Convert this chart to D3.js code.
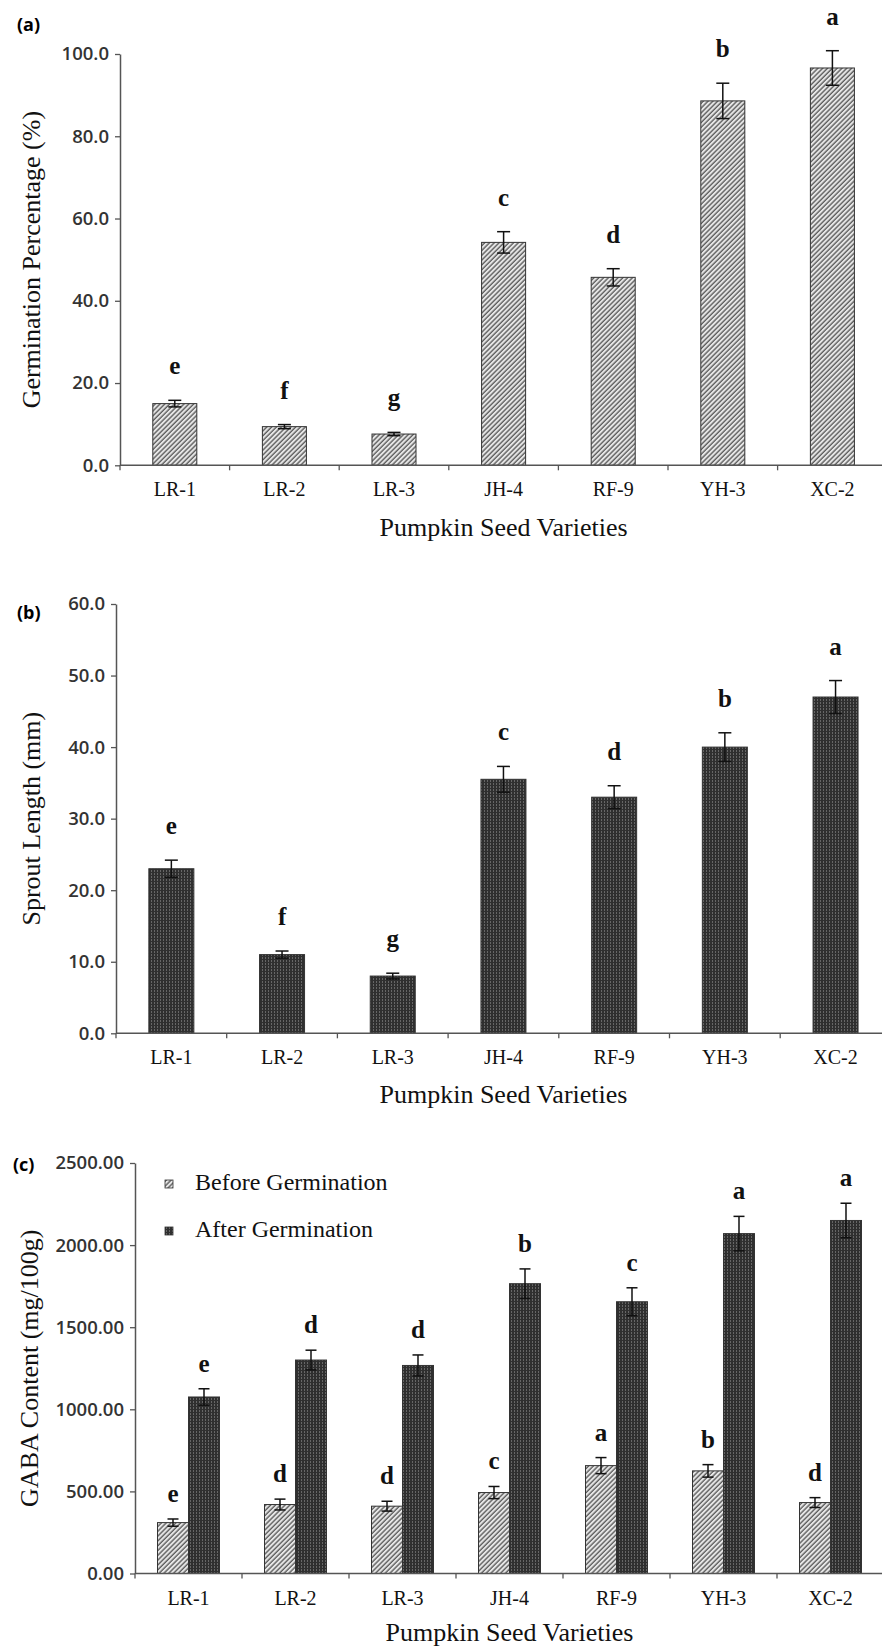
<!DOCTYPE html>
<html>
<head>
<meta charset="utf-8">
<script src="https://cdn.jsdelivr.net/npm/d3@7"></script>
<style>
  body { margin: 0; background: #fff; }
  svg { display: block; }
</style>
</head>
<body>
<script>
;(() => {

    // categories shared by all three panels
    const varieties = ['LR-1', 'LR-2', 'LR-3', 'JH-4', 'RF-9', 'YH-3', 'XC-2'];

    // (a) germination percentage
    const germination = [15.0, 9.4, 7.6, 54.2, 45.7, 88.6, 96.6];
    const germinationErr = [0.8, 0.5, 0.4, 2.6, 2.1, 4.3, 4.2];
    const germinationSig = ['e', 'f', 'g', 'c', 'd', 'b', 'a'];
    const germinationTicks = [0, 20, 40, 60, 80, 100];

    // (b) sprout length
    const sprout = [23.0, 11.0, 8.0, 35.5, 33.0, 40.0, 47.0];
    const sproutErr = [1.2, 0.5, 0.4, 1.8, 1.6, 2.0, 2.3];
    const sproutSig = ['e', 'f', 'g', 'c', 'd', 'b', 'a'];
    const sproutTicks = [0, 10, 20, 30, 40, 50, 60];

    // (c) GABA content before / after germination
    const gabaBefore = [310, 420, 410, 493, 657, 625, 432];
    const gabaBeforeErr = [22, 33, 30, 37, 49, 38, 30];
    const gabaBeforeSig = ['e', 'd', 'd', 'c', 'a', 'b', 'd'];
    const gabaAfter = [1075, 1300, 1267, 1765, 1655, 2070, 2150];
    const gabaAfterErr = [50, 60, 64, 90, 85, 105, 105];
    const gabaAfterSig = ['e', 'd', 'd', 'b', 'c', 'a', 'a'];
    const gabaTicks = [0, 500, 1000, 1500, 2000, 2500];
    const legendLabels = ['Before Germination', 'After Germination'];

    const width = 882;
    const height = 1648;
    const serif = '"Liberation Serif", "Times New Roman", serif';
    const sans = '"Open Sans", "Noto Sans", sans-serif';

    const svg = d3.select('body').append('svg')
        .attr('width', width)
        .attr('height', height);

    // fill patterns: light diagonal hatch and dark fine texture
    const defs = svg.append('defs');
    const hatch = defs.append('pattern')
        .attr('id', 'hatch')
        .attr('patternUnits', 'userSpaceOnUse')
        .attr('width', 3.4).attr('height', 3.4)
        .attr('patternTransform', 'rotate(45)');
    hatch.append('rect').attr('width', 3.4).attr('height', 3.4).attr('fill', '#e6e6e6');
    hatch.append('line').attr('x1', 1).attr('y1', 0).attr('x2', 1).attr('y2', 3.4)
        .attr('stroke', '#555').attr('stroke-width', 1.3);

    const dark = defs.append('pattern')
        .attr('id', 'dark')
        .attr('patternUnits', 'userSpaceOnUse')
        .attr('width', 3).attr('height', 3);
    dark.append('rect').attr('width', 3).attr('height', 3).attr('fill', '#2f2f2f');
    dark.append('rect').attr('x', 1).attr('width', 1).attr('height', 2).attr('fill', '#666');

    const panels = [
        {
            tag: '(a)', tagX: 17, tagY: 31,
            axisX: 120, band: 109.6, top: 54, base: 465.3,
            ticks: germinationTicks, fmt: d3.format('.1f'),
            yTitle: 'Germination Percentage (%)', yTitleX: 31,
            outerPad: 0.745, sigGap: 26, titleGap: 71,
            series: [{ values: germination, err: germinationErr, sig: germinationSig, fill: 'url(#hatch)' }]
        },
        {
            tag: '(b)', tagX: 17, tagY: 619,
            axisX: 116, band: 110.7, top: 604, base: 1033.3,
            ticks: sproutTicks, fmt: d3.format('.1f'),
            yTitle: 'Sprout Length (mm)', yTitleX: 31,
            outerPad: 0.73, sigGap: 26, titleGap: 70,
            series: [{ values: sprout, err: sproutErr, sig: sproutSig, fill: 'url(#dark)' }]
        },
        {
            tag: '(c)', tagX: 13, tagY: 1171,
            axisX: 135, band: 107, top: 1163, base: 1573.5,
            ticks: gabaTicks, fmt: d3.format('.2f'),
            yTitle: 'GABA Content (mg/100g)', yTitleX: 29,
            outerPad: 0.726, sigGap: 17, titleGap: 67,
            series: [
                { values: gabaBefore, err: gabaBeforeErr, sig: gabaBeforeSig, fill: 'url(#hatch)' },
                { values: gabaAfter, err: gabaAfterErr, sig: gabaAfterSig, fill: 'url(#dark)' }
            ],
            legend: true
        }
    ];

    panels.forEach(renderPanel);

    /**
      * One bar chart panel with axes, error bars
      * and significance letters
      */
    function renderPanel (p) {
        const g = svg.append('g');
        const x = d3.scaleBand()
            .domain(varieties)
            .range([p.axisX, p.axisX + p.band * varieties.length]);
        const y = d3.scaleLinear()
            .domain([0, d3.max(p.ticks)])
            .range([p.base, p.top]);
        const xSub = d3.scaleBand()
            .domain(d3.range(p.series.length))
            .range([0, x.bandwidth()])
            .paddingOuter(p.outerPad);

        // bars, error bars and letters per series
        p.series.forEach((s, si) => {
            const sg = g.append('g');
            const cx = (d, i) => x(varieties[i]) + xSub(si) + xSub.bandwidth() / 2;
            sg.selectAll('rect')
                .data(s.values)
                .enter()
                .append('rect')
                .attr('x', (d, i) => x(varieties[i]) + xSub(si))
                .attr('y', d => y(d))
                .attr('width', xSub.bandwidth())
                .attr('height', d => p.base - y(d))
                .attr('fill', s.fill)
                .attr('stroke', '#333')
                .attr('stroke-width', 1);

            const cap = p.series.length > 1 ? 5.5 : 6.5;
            const eb = sg.selectAll('g.err')
                .data(s.values)
                .enter()
                .append('g')
                .attr('class', 'err')
                .attr('stroke', '#111')
                .attr('stroke-width', 1.5);
            eb.append('line')
                .attr('x1', cx).attr('x2', cx)
                .attr('y1', (d, i) => y(d + s.err[i]))
                .attr('y2', (d, i) => y(d - s.err[i]));
            eb.append('line')
                .attr('x1', (d, i) => cx(d, i) - cap).attr('x2', (d, i) => cx(d, i) + cap)
                .attr('y1', (d, i) => y(d + s.err[i])).attr('y2', (d, i) => y(d + s.err[i]));
            eb.append('line')
                .attr('x1', (d, i) => cx(d, i) - cap).attr('x2', (d, i) => cx(d, i) + cap)
                .attr('y1', (d, i) => y(d - s.err[i])).attr('y2', (d, i) => y(d - s.err[i]));

            sg.selectAll('text')
                .data(s.values)
                .enter()
                .append('text')
                .attr('x', cx)
                .attr('y', (d, i) => y(d + s.err[i]) - p.sigGap)
                .attr('text-anchor', 'middle')
                .style('font-family', serif)
                .style('font-size', '25px')
                .style('font-weight', 700)
                .attr('fill', '#111')
                .text((d, i) => s.sig[i]);
        });

        // y axis
        const yAxis = g.append('g')
            .attr('transform', 'translate(' + p.axisX + ',0)')
            .call(d3.axisLeft(y).tickValues(p.ticks).tickFormat(p.fmt).tickSize(5).tickSizeOuter(0).tickPadding(6));
        yAxis.select('.domain').attr('stroke', '#555').attr('stroke-width', 1.5);
        yAxis.selectAll('.tick line').attr('stroke', '#555').attr('stroke-width', 1.3);
        yAxis.selectAll('.tick text')
            .style('font-family', sans)
            .style('font-size', '18.5px')
            .style('font-weight', 600)
            .attr('fill', '#333');

        // x axis: ticks sit on category boundaries, labels in the middle
        g.append('line')
            .attr('x1', p.axisX).attr('x2', width + 10)
            .attr('y1', p.base).attr('y2', p.base)
            .attr('stroke', '#555').attr('stroke-width', 1.5);
        g.selectAll('line.xtick')
            .data(varieties)
            .enter()
            .append('line')
            .attr('class', 'xtick')
            .attr('x1', d => x(d)).attr('x2', d => x(d))
            .attr('y1', p.base).attr('y2', p.base + 5)
            .attr('stroke', '#555').attr('stroke-width', 1.3);
        g.selectAll('text.xlab')
            .data(varieties)
            .enter()
            .append('text')
            .attr('class', 'xlab')
            .attr('x', d => x(d) + x.bandwidth() / 2)
            .attr('y', p.base + 31)
            .attr('text-anchor', 'middle')
            .style('font-family', serif)
            .style('font-size', '20px')
            .attr('fill', '#111')
            .text(d => d);

        // axis titles
        g.append('text')
            .attr('x', (x.range()[0] + x.range()[1]) / 2)
            .attr('y', p.base + p.titleGap)
            .attr('text-anchor', 'middle')
            .style('font-family', serif)
            .style('font-size', '26px')
            .attr('fill', '#111')
            .text('Pumpkin Seed Varieties');
        g.append('text')
            .attr('transform', 'translate(' + p.yTitleX + ',' + ((p.top + p.base) / 2) + ') rotate(-90)')
            .attr('text-anchor', 'middle')
            .attr('dy', '0.35em')
            .style('font-family', serif)
            .style('font-size', '26px')
            .attr('fill', '#111')
            .text(p.yTitle);

        // panel tag
        g.append('text')
            .attr('x', p.tagX)
            .attr('y', p.tagY)
            .style('font-family', sans)
            .style('font-size', '18px')
            .style('font-weight', 700)
            .attr('fill', '#000')
            .text(p.tag);

        if (p.legend) {
            const lg = g.append('g');
            const items = lg.selectAll('g')
                .data(legendLabels)
                .enter()
                .append('g')
                .attr('transform', (d, i) => 'translate(165,' + (1180 + i * 47) + ')');
            items.append('rect')
                .attr('width', 8).attr('height', 8)
                .attr('fill', (d, i) => p.series[i].fill)
                .attr('stroke', '#333').attr('stroke-width', 0.8);
            items.append('text')
                .attr('x', 30)
                .attr('y', 10)
                .style('font-family', serif)
                .style('font-size', '24px')
                .attr('fill', '#111')
                .text(d => d);
        }
    }

})();
</script>
</body>
</html>
